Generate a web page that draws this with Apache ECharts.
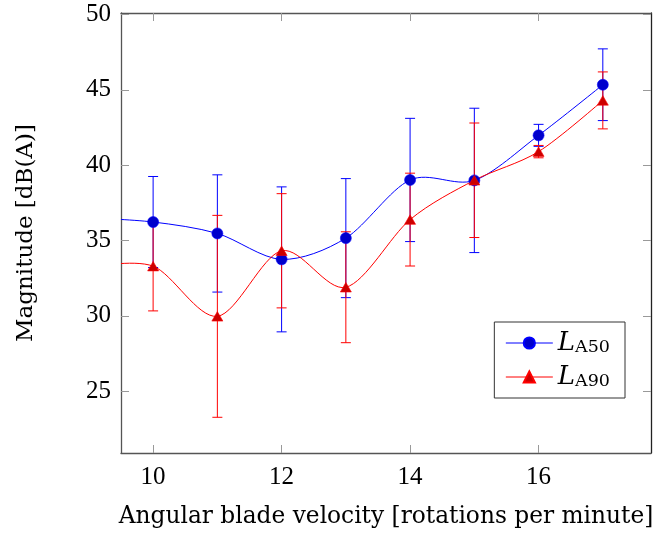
<!DOCTYPE html>
<html>
<head>
<meta charset="utf-8">
<script src="https://cdn.jsdelivr.net/npm/echarts@6/dist/echarts.min.js"></script>
<style>
html,body{margin:0;padding:0;background:#fff;}
#chart{width:654px;height:536px;}
</style>
</head>
<body>
<div id="chart"></div>
<script>
// ---- data (x = 9 is the lead-in point left of the visible range) ----
const velocity = [9, 10, 11, 12, 13, 14, 15, 16, 17];
const la50 = [36.5, 36.23, 35.47, 33.75, 35.16, 39.02, 38.99, 41.98, 45.34];
const la50Err = [null, 3.02, 3.89, 4.81, 3.95, 4.09, 4.79, 0.73, 2.38];
const la90 = [33.2, 33.3, 29.97, 34.32, 31.9, 36.39, 39.0, 40.9, 44.3];
const la90Err = [null, 2.97, 6.7, 3.79, 3.68, 3.08, 3.8, 0.41, 1.89];
const xTicks = [10, 12, 14, 16];
const yTicks = [25, 30, 35, 40, 45, 50];
const seriesNames = ['LA50', 'LA90'];
const xTitle = 'Angular blade velocity [rotations per minute]';
const yTitle = 'Magnitude [dB(A)]';

const FONT = '"Liberation Serif", "DejaVu Serif", serif';
const TFONT = '"DejaVu Serif", "Liberation Serif", serif';
const X_MIN = 9.5, X_MAX = 17.75, Y_MIN = 20.9, Y_MAX = 50.1;
const TENSION = 0.2775 * 0.55;

function pts(vals) { return velocity.map((x, i) => [x, vals[i]]); }
function errData(vals, errs) {
  const out = [];
  velocity.forEach((x, i) => { if (errs[i] != null) out.push([x, vals[i] - errs[i], vals[i] + errs[i]]); });
  return out;
}
// each item = one curve segment: [prev, start, end, next] points
function segData(vals) {
  const n = velocity.length, out = [];
  for (let i = 0; i < n - 1; i++) {
    const a = Math.max(i - 1, 0), d = Math.min(i + 2, n - 1);
    out.push([velocity[a], vals[a], velocity[i], vals[i], velocity[i + 1], vals[i + 1], velocity[d], vals[d], i === 0 ? 1 : 0, i === n - 2 ? 1 : 0]);
  }
  return out;
}
function smoothSeries(vals, color) {
  return {
    type: 'custom', clip: true, z: 2, silent: true,
    data: segData(vals),
    renderItem: function (params, api) {
      const p0 = api.coord([api.value(0), api.value(1)]);
      const p1 = api.coord([api.value(2), api.value(3)]);
      const p2 = api.coord([api.value(4), api.value(5)]);
      const p3 = api.coord([api.value(6), api.value(7)]);
      const first = api.value(8) === 1, last = api.value(9) === 1;
      const c1 = first ? p1 : [p1[0] + TENSION * (p2[0] - p0[0]), p1[1] + TENSION * (p2[1] - p0[1])];
      const c2 = last ? p2 : [p2[0] - TENSION * (p3[0] - p1[0]), p2[1] - TENSION * (p3[1] - p1[1])];
      return {
        type: 'bezierCurve',
        shape: { x1: p1[0], y1: p1[1], x2: p2[0], y2: p2[1], cpx1: c1[0], cpy1: c1[1], cpx2: c2[0], cpy2: c2[1] },
        style: { stroke: color, lineWidth: 1, fill: null }
      };
    }
  };
}
function errorSeries(vals, errs, color) {
  return {
    type: 'custom', clip: true, z: 1, silent: true,
    data: errData(vals, errs),
    renderItem: function (params, api) {
      const x = api.value(0);
      const lo = api.coord([x, api.value(1)]);
      const hi = api.coord([x, api.value(2)]);
      const w = 5;
      const st = { stroke: color, lineWidth: 1, fill: null };
      return {
        type: 'group',
        children: [
          { type: 'line', shape: { x1: hi[0], y1: hi[1], x2: lo[0], y2: lo[1] }, style: st },
          { type: 'line', shape: { x1: hi[0] - w, y1: hi[1], x2: hi[0] + w, y2: hi[1] }, style: st },
          { type: 'line', shape: { x1: lo[0] - w, y1: lo[1], x2: lo[0] + w, y2: lo[1] }, style: st }
        ]
      };
    }
  };
}

const chart = echarts.init(document.getElementById('chart'), null, { renderer: 'canvas' });
const baseAxisX = {
  type: 'value', min: X_MIN, max: X_MAX,
  splitLine: { show: false },
  axisTick: { show: true, inside: true, length: 8, customValues: xTicks, lineStyle: { color: '#999', width: 1 } }
};
const baseAxisY = {
  type: 'value', min: Y_MIN, max: Y_MAX,
  splitLine: { show: false },
  axisTick: { show: true, inside: true, length: 8, customValues: yTicks, lineStyle: { color: '#999', width: 1 } }
};
chart.setOption({
  animation: false,
  backgroundColor: '#fff',
  grid: { left: 121, top: 13, right: 3, bottom: 83, containLabel: false, outerBoundsMode: 'none' },
  xAxis: [
    Object.assign({}, baseAxisX, {
      position: 'bottom',
      axisLine: { show: true, onZero: false, lineStyle: { color: '#555', width: 1.3 } },
      axisLabel: { show: true, customValues: xTicks, margin: 12, fontFamily: FONT, fontSize: 25, color: '#000' },
      name: xTitle, nameLocation: 'middle', nameGap: 52,
      nameTextStyle: { fontFamily: TFONT, fontSize: 23.3, color: '#000' }
    }),
    Object.assign({}, baseAxisX, {
      position: 'top',
      axisLine: { show: true, onZero: false, lineStyle: { color: '#555', width: 1.3 } },
      axisLabel: { show: false }
    })
  ],
  yAxis: [
    Object.assign({}, baseAxisY, {
      position: 'left',
      axisLine: { show: true, onZero: false, lineStyle: { color: '#555', width: 1.3 } },
      axisLabel: { show: true, customValues: yTicks, margin: 10, fontFamily: FONT, fontSize: 25, color: '#000' },
      name: yTitle, nameLocation: 'middle', nameGap: 83, nameRotate: 90,
      nameTextStyle: { fontFamily: TFONT, fontSize: 23, color: '#000' }
    }),
    Object.assign({}, baseAxisY, {
      position: 'right',
      axisLine: { show: true, onZero: false, lineStyle: { color: '#222', width: 1.3 } },
      axisLabel: { show: false }
    })
  ],
  legend: {
    orient: 'vertical',
    right: 29, top: 322,
    data: [
      { name: seriesNames[0], lineStyle: { color: '#0000ff', width: 1, opacity: 1 } },
      { name: seriesNames[1], lineStyle: { color: '#ff0000', width: 1, opacity: 1 } }
    ],
    backgroundColor: '#fff',
    borderColor: '#333', borderWidth: 1, borderRadius: 0,
    padding: [8, 15, 8, 11],
    itemWidth: 47, itemHeight: 14, itemGap: 8,
    selectedMode: false,
    formatter: function (name) { return '{i|' + name.charAt(0) + '}{s|' + name.slice(1) + '}'; },
    textStyle: {
      color: '#000', fontFamily: TFONT,
      rich: {
        i: { fontFamily: TFONT, fontStyle: 'italic', fontSize: 26, lineHeight: 26, color: '#000' },
        s: { fontFamily: TFONT, fontSize: 17.5, lineHeight: 10, verticalAlign: 'bottom', color: '#000' }
      }
    }
  },
  series: [
    errorSeries(la50, la50Err, '#0000ff'),
    errorSeries(la90, la90Err, '#ff0000'),
    smoothSeries(la50, '#0000ff'),
    smoothSeries(la90, '#ff0000'),
    {
      name: seriesNames[0], type: 'line', data: pts(la50), clip: true, z: 3,
      symbol: 'circle', symbolSize: 11, showAllSymbol: true,
      lineStyle: { color: '#0000ff', width: 1, opacity: 0 },
      itemStyle: { color: '#0000cc', borderColor: '#0000ff', borderWidth: 0.6 }
    },
    {
      name: seriesNames[1], type: 'line', data: pts(la90), clip: true, z: 4,
      symbol: 'triangle', symbolSize: [11, 9.5], showAllSymbol: true,
      lineStyle: { color: '#ff0000', width: 1, opacity: 0 },
      itemStyle: { color: '#cc0000', borderColor: '#ff0000', borderWidth: 0.6 }
    }
  ]
});
</script>
</body>
</html>
